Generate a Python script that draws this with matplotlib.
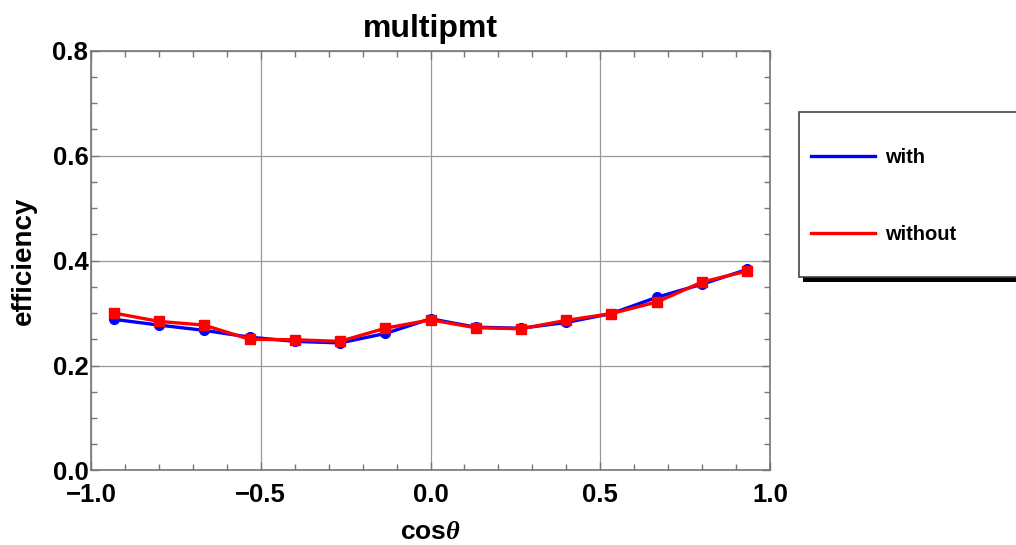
import matplotlib
matplotlib.use('Agg')
import matplotlib.pyplot as plt
from matplotlib.patches import Rectangle
from matplotlib.ticker import MultipleLocator

plt.rcParams['font.family'] = ['Liberation Sans', 'DejaVu Sans']
plt.rcParams['font.weight'] = 'bold'
plt.rcParams['mathtext.fontset'] = 'custom'
plt.rcParams['mathtext.it'] = 'Liberation Serif:italic'
plt.rcParams['mathtext.rm'] = 'Liberation Sans:bold'

# cos(theta) bin centres
cos_theta = [-0.933, -0.8, -0.667, -0.533, -0.4, -0.267, -0.133, 0.0,
             0.133, 0.267, 0.4, 0.533, 0.667, 0.8, 0.933]
eff_with = [0.288, 0.277, 0.267, 0.254, 0.246, 0.243, 0.261, 0.289,
            0.273, 0.271, 0.282, 0.299, 0.330, 0.355, 0.383]
eff_without = [0.300, 0.284, 0.277, 0.250, 0.249, 0.246, 0.271, 0.287,
               0.272, 0.270, 0.286, 0.299, 0.321, 0.359, 0.380]

W, H = 1016, 545
fig = plt.figure(figsize=(W / 100, H / 100), dpi=100)
ax = fig.add_axes([0.0896, 0.1367, 0.6683, 0.7706])

ax.plot(cos_theta, eff_with, '-', color='blue', lw=2.4, label='with')
ax.plot(cos_theta, eff_with, 'o', color='blue', ms=7)
ax.plot(cos_theta, eff_without, '-', color='red', lw=2.4, label='without')
ax.plot(cos_theta, eff_without, 's', color='red', ms=7)

ax.set_xlim(-1, 1)
ax.set_ylim(0, 0.8)
ax.xaxis.set_major_locator(MultipleLocator(0.5))
ax.xaxis.set_minor_locator(MultipleLocator(0.1))
ax.yaxis.set_major_locator(MultipleLocator(0.2))
ax.yaxis.set_minor_locator(MultipleLocator(0.05))
ax.xaxis.set_major_formatter(plt.FuncFormatter(lambda v, p: f'{v:.1f}'.replace('-', '\u2212')))
ax.yaxis.set_major_formatter(plt.FuncFormatter(lambda v, p: f'{v:.1f}'))
ax.tick_params(which='both', direction='in', top=True, right=True, color='#777777',
               labelsize=18.5)
ax.tick_params(axis='x', which='major', pad=9)
ax.tick_params(axis='y', which='major', pad=2)
ax.tick_params(which='major', length=6, width=1)
ax.tick_params(which='minor', length=4, width=1)
for s in ax.spines.values():
    s.set_color('#777777')
    s.set_linewidth(1.2)
ax.grid(True, which='major', color='#999999', lw=0.9)
ax.set_axisbelow(True)

ax.set_title('multipmt', fontsize=23, fontweight='bold', pad=9.7)
ax.set_xlabel(r'cos$\theta$', fontsize=19, fontweight='bold')
ax.set_ylabel('efficiency', fontsize=20, fontweight='bold')
ax.xaxis.set_label_coords(0.5, -0.117)
ax.yaxis.set_label_coords(-0.0795, 0.5)

# legend box with a solid black drop shadow, sitting right of the axes
fig.add_artist(Rectangle((803 / W, 1 - 282 / H), 0.3, 165 / H, transform=fig.transFigure,
                         facecolor='black', edgecolor='none', zorder=3))
fig.add_artist(Rectangle((799 / W, 1 - 277 / H), 0.3, 165 / H, transform=fig.transFigure,
                         facecolor='white', edgecolor='#444444', lw=1.2, zorder=4))
handles, labels = ax.get_legend_handles_labels()
leg = fig.legend(handles, labels, loc='center left', bbox_to_anchor=(811 / W, 1 - 196 / H),
                 borderaxespad=0, borderpad=0,
                 fontsize=14.5, handlelength=3.2, handletextpad=0.5, labelspacing=2.9,
                 frameon=False)
leg.set_zorder(5)
for t in leg.get_texts():
    t.set_fontweight('bold')

fig.savefig('out.png', dpi=100)
